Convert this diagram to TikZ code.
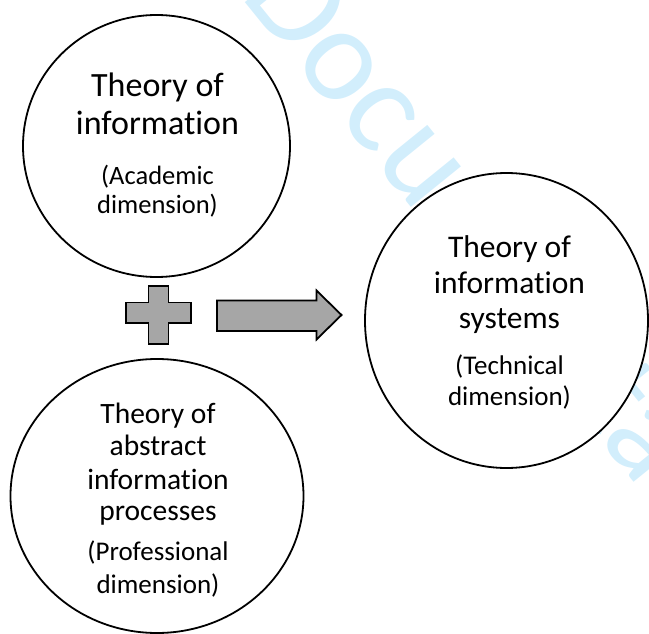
\documentclass[tikz,border=0pt]{standalone}
\usepackage{fontspec}
\setmainfont[RawFeature={-liga}]{Carlito}
\usetikzlibrary{shapes.geometric}
\definecolor{wmblue}{RGB}{210,238,252}
\definecolor{shapegray}{RGB}{166,166,166}
\begin{document}
\begin{tikzpicture}[x=1pt,y=-1pt,
  bubble/.style={ellipse,draw=black,line width=1.8pt,fill=white,inner sep=0pt},
  tline/.style={anchor=base,inner sep=0pt,text=black},
  blockshape/.style={fill=shapegray,draw=black,line width=1.8pt,line join=miter},
  titleA/.style={tline,font=\fontsize{34}{38}\selectfont},
  subA/.style={tline,font=\fontsize{26.5}{28}\selectfont},
  titleB/.style={tline,font=\fontsize{29.5}{32}\selectfont},
  subB/.style={tline,font=\fontsize{27}{30}\selectfont},
  titleC/.style={tline,font=\fontsize{31.5}{36}\selectfont},
  subC/.style={tline,font=\fontsize{27}{30}\selectfont}
]
\useasboundingbox (0,0) rectangle (649,634);
% watermark (behind the circles)
\node[anchor=base west, rotate=-51, text=wmblue, inner sep=0pt,
      font=\fontsize{135}{135}\selectfont] (wm) at (239,-5) {Documentation};

% circles
\node[bubble,minimum width=267pt,minimum height=262pt] (acad) at (156.5,146) {};
\node[bubble,minimum width=293pt,minimum height=274pt] (prof) at (157,496) {};
\node[bubble,minimum width=283pt,minimum height=295pt] (tech) at (506.5,320.5) {};

% texts: top-left
\node[titleA] (a1) at (157.5,97) {Theory of};
\node[titleA] (a2) at (157.5,135) {information};
\node[subA] (a3) at (157.5,185) {(Academic};
\node[subA] (a4) at (157.5,213) {dimension)};

% texts: bottom
\node[titleB] (b1) at (158,423) {Theory of};
\node[titleB] (b2) at (158,455) {abstract};
\node[titleB] (b3) at (158,489) {information};
\node[titleB] (b4) at (158,520) {processes};
\node[subB] (b5) at (158,560) {(Professional};
\node[subB] (b6) at (158,593) {dimension)};

% texts: right
\node[titleC] (c1) at (509.5,257) {Theory of};
\node[titleC] (c2) at (509.5,293) {information};
\node[titleC] (c3) at (509.5,328) {systems};
\node[subC] (c4) at (509.5,374) {(Technical};
\node[subC] (c5) at (509.5,405) {dimension)};

% plus sign
\draw[blockshape] (148.5,286) -- (168.5,286) -- (168.5,302.5) -- (191,302.5)
  -- (191,323) -- (168.5,323) -- (168.5,344) -- (148.5,344) -- (148.5,323)
  -- (126,323) -- (126,302.5) -- (148.5,302.5) -- cycle;

% block arrow
\draw[blockshape] (217,300.5) -- (316.5,300.5) -- (316.5,290.5) -- (341.5,315)
  -- (316.5,339.5) -- (316.5,331) -- (217,331) -- cycle;
\end{tikzpicture}
\end{document}
